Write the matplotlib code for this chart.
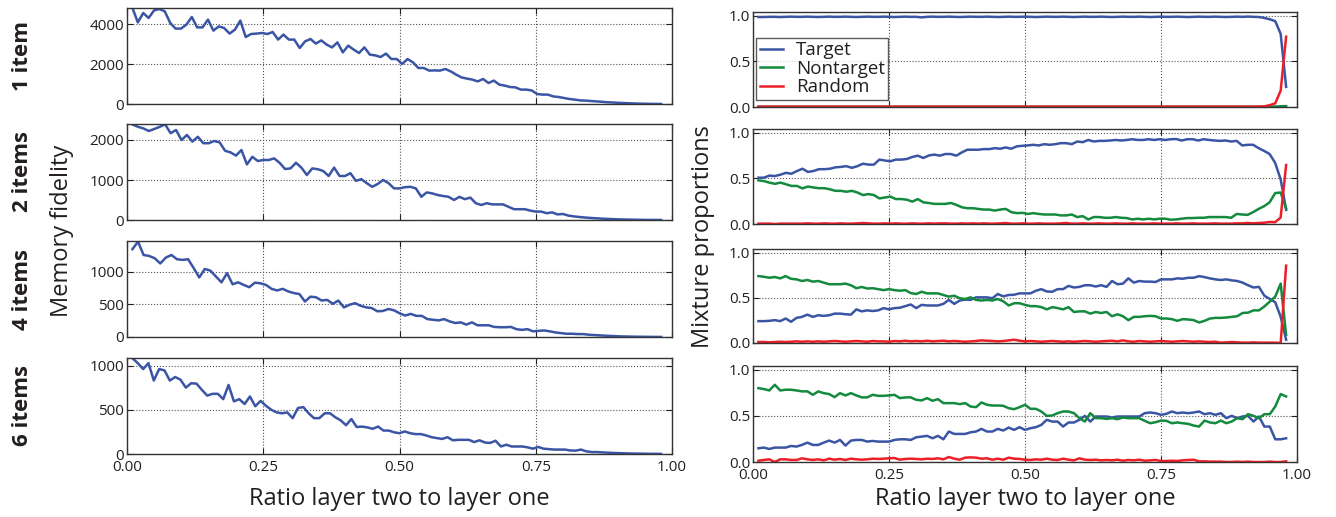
import numpy as np
import matplotlib
matplotlib.use("Agg")
import matplotlib.pyplot as plt

plt.rcParams['font.family'] = ['Open Sans', 'DejaVu Sans']

# ---------------- data ----------------
row_labels = ["1 item", "2 items", "4 items", "6 items"]
series_names = ["Target", "Nontarget", "Random"]
x_ticks = [0.00, 0.25, 0.50, 0.75, 1.00]
x_ticklabels = ["0.00", "0.25", "0.50", "0.75", "1.00"]

fid_1 = [4800, 4080, 4550, 4300, 4680, 4750, 4630, 4050, 3770, 3770,
         3970, 4350, 3830, 3830, 4220, 3670, 3880, 3800, 3520, 3720,
         4170, 3350, 3500, 3520, 3550, 3500, 3600, 3220, 3470, 3220,
         3220, 2800, 3130, 3250, 3020, 3180, 2970, 2830, 3080, 2580,
         2920, 2720, 2550, 2830, 2470, 2430, 2350, 2520, 2250, 2250,
         2000, 2250, 2080, 1800, 1800, 1670, 1680, 1670, 1750, 1630,
         1470, 1330, 1270, 1220, 1130, 1250, 1050, 1170, 970, 920,
         850, 830, 720, 720, 680, 500, 470, 470, 380, 350,
         300, 250, 220, 180, 170, 150, 130, 110, 90, 75,
         60, 48, 37, 27, 19, 12, 7, 3, 1]
fid_2 = [2390, 2330, 2290, 2225, 2275, 2330, 2390, 2170, 2250, 2000,
         2125, 1960, 2080, 1920, 1920, 1975, 1940, 1730, 1690, 1610,
         1750, 1390, 1580, 1475, 1500, 1500, 1540, 1430, 1275, 1290,
         1430, 1310, 1125, 1290, 1270, 1225, 1100, 1310, 1100, 1100,
         1170, 980, 1020, 920, 830, 900, 1000, 920, 790, 790,
         820, 830, 790, 580, 690, 665, 625, 600, 580, 500,
         580, 520, 560, 420, 375, 420, 390, 390, 390, 330,
         270, 270, 270, 235, 210, 210, 170, 190, 140, 150,
         110, 90, 75, 62, 52, 43, 35, 28, 22, 17,
         13, 10, 7, 5, 3, 2, 1, 0.5]
fid_4 = [1350, 1465, 1260, 1245, 1210, 1130, 1220, 1260, 1195, 1185,
         1195, 1060, 915, 1045, 1020, 930, 840, 980, 810, 840,
         800, 765, 835, 825, 800, 740, 715, 740, 700, 675,
         660, 545, 620, 610, 560, 570, 510, 560, 455, 495,
         520, 480, 455, 445, 395, 400, 430, 410, 365, 330,
         355, 325, 325, 275, 265, 255, 275, 240, 215, 225,
         190, 225, 180, 180, 180, 155, 150, 150, 155, 120,
         110, 120, 87, 95, 100, 87, 70, 60, 50, 50,
         45, 45, 35, 30, 25, 20, 16, 12, 9, 7,
         5, 4, 3, 2, 1, 1]
fid_6 = [1083, 1027, 960, 1027, 830, 960, 945, 830, 870, 840,
         750, 800, 795, 725, 660, 680, 680, 620, 780, 595,
         620, 565, 650, 540, 600, 545, 500, 470, 460, 470,
         405, 520, 530, 460, 405, 405, 460, 460, 415, 380,
         325, 395, 305, 310, 300, 285, 310, 265, 265, 245,
         235, 255, 235, 225, 225, 210, 190, 180, 170, 190,
         155, 160, 160, 160, 135, 155, 130, 125, 150, 85,
         105, 85, 85, 85, 75, 60, 80, 60, 55, 50,
         50, 50, 40, 38, 50, 30, 22, 22, 18, 15,
         12, 10, 8, 6, 5, 4, 3, 2, 2, 1]

target_1 = [0.985, 0.985, 0.987, 0.987, 0.985, 0.987, 0.989, 0.987, 0.987, 0.989,
            0.987, 0.985, 0.987, 0.989, 0.987, 0.987, 0.989, 0.987, 0.985, 0.987,
            0.989, 0.987, 0.987, 0.989, 0.987, 0.985, 0.987, 0.989, 0.987, 0.987,
            0.981, 0.987, 0.989, 0.987, 0.987, 0.989, 0.987, 0.985, 0.987, 0.989,
            0.987, 0.987, 0.989, 0.987, 0.985, 0.987, 0.989, 0.987, 0.987, 0.989,
            0.987, 0.985, 0.987, 0.989, 0.987, 0.987, 0.989, 0.987, 0.985, 0.987,
            0.989, 0.987, 0.987, 0.989, 0.987, 0.985, 0.987, 0.989, 0.987, 0.987,
            0.989, 0.987, 0.985, 0.987, 0.989, 0.987, 0.987, 0.989, 0.987, 0.985,
            0.987, 0.989, 0.987, 0.987, 0.989, 0.987, 0.985, 0.987, 0.989, 0.987,
            0.990, 0.987, 0.985, 0.975, 0.960, 0.940, 0.800, 0.220]
nontarget_1 = [
            0.002, 0.002, 0.002, 0.002, 0.002, 0.002, 0.002, 0.002, 0.002, 0.002,
            0.002, 0.002, 0.002, 0.002, 0.002, 0.002, 0.002, 0.002, 0.002, 0.002,
            0.002, 0.002, 0.002, 0.002, 0.002, 0.002, 0.002, 0.002, 0.002, 0.002,
            0.002, 0.002, 0.002, 0.002, 0.002, 0.002, 0.002, 0.002, 0.002, 0.002,
            0.002, 0.002, 0.002, 0.002, 0.002, 0.002, 0.002, 0.002, 0.002, 0.002,
            0.002, 0.002, 0.002, 0.002, 0.002, 0.002, 0.002, 0.002, 0.002, 0.002,
            0.002, 0.002, 0.002, 0.002, 0.002, 0.002, 0.002, 0.002, 0.002, 0.002,
            0.002, 0.002, 0.002, 0.002, 0.002, 0.002, 0.002, 0.002, 0.002, 0.002,
            0.002, 0.002, 0.002, 0.002, 0.002, 0.002, 0.002, 0.002, 0.002, 0.002,
            0.002, 0.002, 0.002, 0.003, 0.004, 0.005, 0.008, 0.010]
random_1 = [0.004, 0.004, 0.004, 0.004, 0.004, 0.004, 0.004, 0.004, 0.004, 0.004,
            0.004, 0.004, 0.004, 0.004, 0.004, 0.004, 0.004, 0.004, 0.004, 0.004,
            0.004, 0.004, 0.004, 0.004, 0.004, 0.004, 0.004, 0.004, 0.004, 0.004,
            0.004, 0.004, 0.004, 0.004, 0.004, 0.004, 0.004, 0.004, 0.004, 0.004,
            0.004, 0.004, 0.004, 0.004, 0.004, 0.004, 0.004, 0.004, 0.004, 0.004,
            0.004, 0.004, 0.004, 0.004, 0.004, 0.004, 0.004, 0.004, 0.004, 0.004,
            0.004, 0.004, 0.004, 0.004, 0.004, 0.004, 0.004, 0.004, 0.004, 0.004,
            0.004, 0.004, 0.004, 0.004, 0.004, 0.004, 0.004, 0.004, 0.004, 0.004,
            0.004, 0.004, 0.004, 0.004, 0.004, 0.004, 0.004, 0.004, 0.004, 0.004,
            0.004, 0.004, 0.005, 0.007, 0.020, 0.040, 0.180, 0.770]

target_2 = [0.507, 0.507, 0.53, 0.525, 0.54, 0.56, 0.55, 0.58, 0.605, 0.57,
            0.58, 0.6, 0.6, 0.605, 0.62, 0.625, 0.633, 0.615, 0.633, 0.66,
            0.65, 0.65, 0.705, 0.695, 0.687, 0.705, 0.705, 0.712, 0.734, 0.748,
            0.723, 0.75, 0.76, 0.748, 0.766, 0.766, 0.748, 0.784, 0.813, 0.813,
            0.813, 0.82, 0.82, 0.83, 0.824, 0.838, 0.824, 0.85, 0.856, 0.86,
            0.867, 0.86, 0.874, 0.867, 0.874, 0.885, 0.885, 0.874, 0.903, 0.896,
            0.92, 0.903, 0.91, 0.91, 0.914, 0.92, 0.914, 0.92, 0.928, 0.92,
            0.92, 0.928, 0.92, 0.928, 0.92, 0.928, 0.93, 0.914, 0.928, 0.928,
            0.914, 0.928, 0.92, 0.914, 0.91, 0.914, 0.903, 0.91, 0.86, 0.867,
            0.867, 0.83, 0.8, 0.766, 0.67, 0.49, 0.155]
nontarget_2 = [0.478, 0.47, 0.453, 0.44, 0.453, 0.435, 0.417, 0.417, 0.39, 0.41,
               0.40, 0.392, 0.392, 0.38, 0.363, 0.363, 0.353, 0.363, 0.345, 0.317,
               0.327, 0.317, 0.28, 0.29, 0.30, 0.273, 0.273, 0.266, 0.245, 0.273,
               0.237, 0.23, 0.22, 0.22, 0.22, 0.23, 0.21, 0.183, 0.173, 0.173,
               0.165, 0.158, 0.158, 0.147, 0.158, 0.165, 0.13, 0.119, 0.122, 0.11,
               0.119, 0.11, 0.104, 0.104, 0.104, 0.094, 0.094, 0.104, 0.076, 0.086,
               0.05, 0.076, 0.076, 0.068, 0.068, 0.076, 0.068, 0.065, 0.05, 0.058,
               0.05, 0.058, 0.05, 0.058, 0.058, 0.047, 0.05, 0.058, 0.065, 0.065,
               0.068, 0.068, 0.076, 0.076, 0.076, 0.076, 0.068, 0.11, 0.104, 0.10,
               0.13, 0.165, 0.195, 0.237, 0.338, 0.345, 0.17]
random_2 = [0.004, 0.004, 0.004, 0.0, 0.004, 0.004, 0.004, 0.004, 0.004, 0.007,
            0.004, 0.004, 0.007, 0.004, 0.004, 0.007, 0.004, 0.004, 0.007, 0.011,
            0.007, 0.004, 0.004, 0.007, 0.004, 0.007, 0.004, 0.004, 0.007, 0.004,
            0.004, 0.007, 0.004, 0.007, 0.007, 0.004, 0.004, 0.007, 0.004, 0.007,
            0.004, 0.007, 0.004, 0.004, 0.007, 0.011, 0.004, 0.004, 0.007, 0.004,
            0.004, 0.007, 0.004, 0.004, 0.004, 0.007, 0.011, 0.004, 0.004, 0.007,
            0.004, 0.004, 0.007, 0.004, 0.004, 0.007, 0.004, 0.004, 0.007, 0.004,
            0.004, 0.004, 0.007, 0.004, 0.004, 0.004, 0.007, 0.004, 0.004, 0.007,
            0.004, 0.004, 0.004, 0.007, 0.004, 0.004, 0.004, 0.007, 0.007, 0.011,
            0.007, 0.011, 0.014, 0.022, 0.02, 0.07, 0.645]

target_4 = [0.242, 0.242, 0.245, 0.253, 0.242, 0.271, 0.235, 0.278, 0.289, 0.314,
            0.289, 0.307, 0.30, 0.307, 0.325, 0.325, 0.318, 0.314, 0.372, 0.35,
            0.361, 0.354, 0.361, 0.386, 0.372, 0.386, 0.39, 0.408, 0.426, 0.386,
            0.422, 0.415, 0.415, 0.415, 0.433, 0.477, 0.433, 0.47, 0.48, 0.477,
            0.505, 0.505, 0.505, 0.495, 0.542, 0.516, 0.531, 0.534, 0.549, 0.549,
            0.549, 0.578, 0.596, 0.57, 0.567, 0.596, 0.596, 0.632, 0.614, 0.621,
            0.639, 0.639, 0.625, 0.639, 0.621, 0.686, 0.65, 0.657, 0.715, 0.668,
            0.686, 0.679, 0.679, 0.675, 0.704, 0.704, 0.704, 0.715, 0.711, 0.722,
            0.722, 0.74, 0.729, 0.715, 0.704, 0.697, 0.704, 0.693, 0.686, 0.668,
            0.639, 0.614, 0.621, 0.523, 0.487, 0.451, 0.289, 0.036]
nontarget_4 = [0.74, 0.733, 0.722, 0.73, 0.715, 0.74, 0.71, 0.704, 0.686, 0.697,
               0.679, 0.686, 0.668, 0.65, 0.65, 0.65, 0.657, 0.639, 0.606, 0.62,
               0.603, 0.606, 0.596, 0.585, 0.596, 0.585, 0.578, 0.585, 0.552, 0.542,
               0.567, 0.549, 0.549, 0.549, 0.531, 0.513, 0.523, 0.495, 0.487, 0.505,
               0.477, 0.47, 0.477, 0.47, 0.487, 0.462, 0.415, 0.44, 0.44, 0.422,
               0.408, 0.408, 0.397, 0.372, 0.397, 0.386, 0.372, 0.397, 0.343, 0.35,
               0.35, 0.325, 0.343, 0.332, 0.343, 0.296, 0.318, 0.296, 0.253, 0.289,
               0.289, 0.296, 0.30, 0.296, 0.271, 0.271, 0.264, 0.245, 0.264, 0.26,
               0.253, 0.227, 0.245, 0.271, 0.278, 0.278, 0.282, 0.289, 0.296, 0.332,
               0.336, 0.361, 0.361, 0.404, 0.458, 0.513, 0.657, 0.09]
random_4 = [0.011, 0.011, 0.007, 0.011, 0.014, 0.011, 0.014, 0.018, 0.014, 0.018,
            0.014, 0.018, 0.014, 0.018, 0.022, 0.018, 0.014, 0.018, 0.022, 0.018,
            0.014, 0.022, 0.018, 0.018, 0.014, 0.022, 0.018, 0.025, 0.018, 0.022,
            0.018, 0.025, 0.018, 0.022, 0.025, 0.018, 0.022, 0.018, 0.014, 0.018,
            0.022, 0.029, 0.025, 0.022, 0.018, 0.022, 0.029, 0.036, 0.025, 0.018,
            0.022, 0.018, 0.014, 0.018, 0.022, 0.018, 0.014, 0.018, 0.014, 0.018,
            0.022, 0.018, 0.014, 0.018, 0.022, 0.025, 0.018, 0.029, 0.018, 0.014,
            0.022, 0.018, 0.014, 0.018, 0.022, 0.018, 0.014, 0.018, 0.022, 0.018,
            0.014, 0.018, 0.014, 0.011, 0.014, 0.004, 0.007, 0.011, 0.007, 0.004,
            0.004, 0.007, 0.004, 0.004, 0.004, 0.004, 0.0, 0.856]

target_6 = [0.149, 0.156, 0.141, 0.156, 0.156, 0.156, 0.174, 0.167, 0.185, 0.21,
            0.185, 0.185, 0.21, 0.232, 0.21, 0.239, 0.178, 0.232, 0.239, 0.239,
            0.221, 0.228, 0.221, 0.221, 0.221, 0.239, 0.246, 0.246, 0.239, 0.268,
            0.275, 0.283, 0.257, 0.283, 0.246, 0.33, 0.304, 0.304, 0.304, 0.322,
            0.33, 0.359, 0.33, 0.33, 0.359, 0.341, 0.373, 0.348, 0.377, 0.348,
            0.366, 0.377, 0.402, 0.457, 0.438, 0.438, 0.384, 0.428, 0.428, 0.457,
            0.50, 0.438, 0.493, 0.493, 0.493, 0.482, 0.493, 0.493, 0.493, 0.493,
            0.493, 0.529, 0.536, 0.529, 0.511, 0.522, 0.547, 0.529, 0.536, 0.529,
            0.536, 0.547, 0.518, 0.529, 0.511, 0.529, 0.475, 0.50, 0.475, 0.493,
            0.50, 0.438, 0.493, 0.384, 0.384, 0.246, 0.246, 0.257]
nontarget_6 = [0.80, 0.79, 0.775, 0.837, 0.775, 0.783, 0.783, 0.775, 0.765, 0.765,
               0.728, 0.765, 0.746, 0.736, 0.703, 0.746, 0.721, 0.746, 0.721, 0.70,
               0.70, 0.728, 0.717, 0.717, 0.721, 0.728, 0.692, 0.70, 0.70, 0.674,
               0.667, 0.692, 0.663, 0.681, 0.638, 0.638, 0.638, 0.627, 0.638, 0.601,
               0.594, 0.645, 0.62, 0.612, 0.612, 0.609, 0.583, 0.572, 0.594, 0.62,
               0.576, 0.576, 0.547, 0.50, 0.504, 0.529, 0.547, 0.547, 0.529, 0.475,
               0.438, 0.529, 0.475, 0.475, 0.467, 0.475, 0.464, 0.482, 0.475, 0.475,
               0.475, 0.446, 0.42, 0.431, 0.449, 0.446, 0.42, 0.428, 0.42, 0.413,
               0.395, 0.384, 0.449, 0.428, 0.42, 0.449, 0.42, 0.438, 0.475, 0.464,
               0.518, 0.50, 0.475, 0.518, 0.518, 0.601, 0.736, 0.71]
random_6 = [0.014, 0.022, 0.029, 0.0, 0.029, 0.029, 0.022, 0.022, 0.04, 0.029,
            0.022, 0.029, 0.018, 0.036, 0.025, 0.033, 0.022, 0.036, 0.029, 0.025,
            0.029, 0.036, 0.033, 0.036, 0.04, 0.043, 0.025, 0.033, 0.036, 0.033,
            0.029, 0.036, 0.033, 0.04, 0.029, 0.054, 0.036, 0.025, 0.047, 0.05,
            0.047, 0.036, 0.04, 0.025, 0.036, 0.025, 0.047, 0.036, 0.033, 0.025,
            0.022, 0.029, 0.025, 0.036, 0.025, 0.022, 0.036, 0.025, 0.018, 0.04,
            0.025, 0.022, 0.025, 0.018, 0.022, 0.018, 0.025, 0.014, 0.022, 0.018,
            0.025, 0.014, 0.018, 0.022, 0.011, 0.011, 0.014, 0.011, 0.018, 0.022,
            0.025, 0.007, 0.007, 0.004, 0.004, 0.004, 0.0, 0.0, 0.004, 0.0,
            0.004, 0.0, 0.0, 0.0, 0.004, 0.0, 0.0, 0.007]

fidelity = [fid_1, fid_2, fid_4, fid_6]
fid_ylim = [4800, 2400, 1475, 1085]
fid_yticks = [[0, 2000, 4000], [0, 1000, 2000], [0, 500, 1000], [0, 500, 1000]]
mixture = [(target_1, nontarget_1, random_1),
           (target_2, nontarget_2, random_2),
           (target_4, nontarget_4, random_4),
           (target_6, nontarget_6, random_6)]
mix_yticks = [0.0, 0.5, 1.0]

X_START, X_END = 0.01, 0.98

# ---------------- style ----------------
colors = ['#3b55a5', '#138a3d', '#ec1f28']
text_color = '#231f20'
W, H = 1336, 517
fig = plt.figure(figsize=(W / 100, H / 100), dpi=100)

left_rows = [(8, 104), (124, 220), (241, 337), (358, 454)]
right_rows = [(12, 107), (129, 224), (249, 343), (366, 462)]
LX0, LX1 = 127, 672
RX0, RX1 = 753, 1297


def style_axes(ax, bottom):
    ax.set_xlim(0, 1)
    ax.set_xticks(x_ticks)
    ax.grid(True, linestyle=':', color='#555555', linewidth=0.8)
    ax.tick_params(direction='in', top=True, right=True, length=4,
                   labelsize=11, colors=text_color, pad=2)
    ax.tick_params(axis='x', labelbottom=bottom, pad=4)
    if bottom:
        ax.set_xticklabels(x_ticklabels)
    for s in ax.spines.values():
        s.set_color('#333333')
        s.set_linewidth(1.0)


def xs(vals):
    return np.linspace(X_START, X_END, len(vals))


for i in range(4):
    t, b = left_rows[i]
    ax = fig.add_axes([LX0 / W, 1 - b / H, (LX1 - LX0) / W, (b - t) / H])
    ax.plot(xs(fidelity[i]), fidelity[i], color=colors[0], lw=1.8)
    ax.set_ylim(0, fid_ylim[i])
    ax.set_yticks(fid_yticks[i])
    style_axes(ax, i == 3)
    fig.text(22 / W, 1 - (t + b) / 2 / H, row_labels[i], rotation=90,
             fontsize=16, fontweight='bold', ha='center', va='center',
             color=text_color)

    t, b = right_rows[i]
    ax2 = fig.add_axes([RX0 / W, 1 - b / H, (RX1 - RX0) / W, (b - t) / H])
    for k, (vals, name) in enumerate(zip(mixture[i], series_names)):
        ax2.plot(xs(vals), vals, color=colors[k], lw=1.8, label=name)
    ax2.set_ylim(0, 1.04)
    ax2.set_yticks(mix_yticks)
    ax2.set_yticklabels(["0.0", "0.5", "1.0"])
    style_axes(ax2, i == 3)
    if i == 0:
        leg = ax2.legend(loc='lower left', bbox_to_anchor=(0.006, 0.074),
                         fontsize=13.5, frameon=True, fancybox=False,
                         borderpad=0.2, labelspacing=0.02, handlelength=1.2,
                         handletextpad=0.7, borderaxespad=0.0)
        leg.get_frame().set_edgecolor('#333333')
        leg.get_frame().set_linewidth(1.0)
        for txt in leg.get_texts():
            txt.set_color(text_color)

fig.text((LX0 + LX1) / 2 / W, 1 - 499 / H, "Ratio layer two to layer one",
         fontsize=17, ha='center', va='center', color=text_color)
fig.text((RX0 + RX1) / 2 / W, 1 - 499 / H, "Ratio layer two to layer one",
         fontsize=17, ha='center', va='center', color=text_color)
fig.text(62 / W, 1 - 231 / H, "Memory fidelity", rotation=90, fontsize=17,
         ha='center', va='center', color=text_color)
fig.text(703 / W, 1 - 237 / H, "Mixture proportions", rotation=90,
         fontsize=17, ha='center', va='center', color=text_color)

fig.savefig("out.png", dpi=100)
